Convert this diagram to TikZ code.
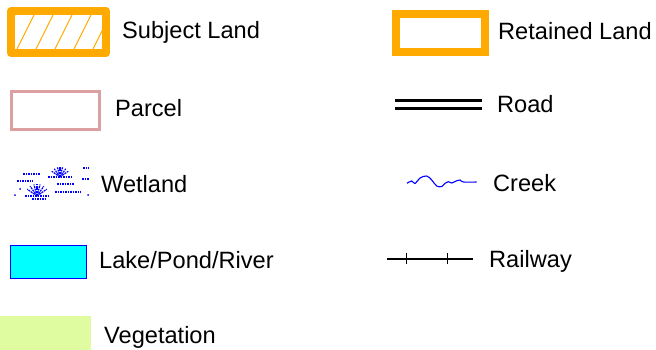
\documentclass[tikz,border=0pt]{standalone}
\usepackage{fontspec}
\setmainfont{Liberation Sans}
\usepackage{tikz}
\usetikzlibrary{calc}

\definecolor{landorange}{RGB}{255,170,0}
\definecolor{parcelpink}{RGB}{220,160,160}
\definecolor{vegetgreen}{RGB}{224,252,160}
\definecolor{lakecyan}{RGB}{0,255,255}

\begin{document}
\begin{tikzpicture}[x=1pt,y=-1pt,
	legendtext/.style={anchor=base west,inner sep=0pt,font=\fontsize{23.6}{27}\selectfont},
	wetdash/.style={blue,line width=1.5pt,dash pattern=on 1.5pt off 1pt},
	wettuft/.style={blue,line width=1.2pt,dash pattern=on 2pt off 0.8pt}]
	\newcommand{\hatchStep}{19}
	\newcommand{\roadWidth}{3}

	\useasboundingbox (0,0) rectangle (656,350);

	% subject land
	\begin{scope}
		\clip (15,15) rectangle (102,49);
		\foreach \hx in {-40,-21,...,120}
			\draw[landorange,line width=1pt] (\hx,49) -- ++(17,-34);
	\end{scope}
	\draw[landorange,line width=8pt,line join=round] (11,11) rectangle (106,53);
	\node[legendtext] (subject_label) at (122,38.5) {Subject Land};

	% retained land
	\draw[landorange,line width=8pt] (396,14) rectangle (485,52);
	\node[legendtext] (retained_label) at (498,39.5) {Retained Land};

	% parcel
	\draw[parcelpink,line width=3pt] (11.5,92) rectangle (99.5,129.5);
	\node[legendtext] (parcel_label) at (115,116.5) {Parcel};

	% road
	\draw[black,line width=\roadWidth pt] (395,101) -- (482,101);
	\draw[black,line width=\roadWidth pt] (395,108.5) -- (482,108.5);
	\node[legendtext] (road_label) at (497,113) {Road};

	% wetland
	\draw[wetdash] (23,174) -- (40,174);
	\draw[wetdash] (83,168) -- (89,168);
	\draw[wetdash] (17,181) -- (33,181);
	\draw[wetdash] (57,184) -- (74,184);
	\draw[wetdash] (82,179) -- (89,179);
	\draw[wetdash] (55,192) -- (81,192);
	\draw[wetdash] (32,199) -- (46,199);
	\draw[wetdash] (48,177) -- (73,177);
	\draw[wetdash] (25,196) -- (50,196);
	\fill[blue] (15,195) circle (1pt) (20,189) circle (1pt) (88,195) circle (1pt);
	\foreach \ang in {215,235,255,270,285,305,325}
		\draw[wettuft] (60,177) -- ++(\ang:10);
	\foreach \ang in {215,235,255,270,285,305,325}
		\draw[wettuft] (37,196) -- ++(\ang:12);
	\node[legendtext] (wetland_label) at (101,192) {Wetland};

	% creek
	\draw[blue,line width=1.1pt] plot[smooth,tension=0.6] coordinates
		{(407,183.3) (411.7,181) (415,183.5) (420,178) (426.7,176) (431.7,180)
		 (436.7,186) (441.7,186.5) (445,183.3) (448.3,181.7) (451.7,183)
		 (456.7,180.7) (460,180) (463.3,182) (476.7,182)};
	\node[legendtext] (creek_label) at (493,191) {Creek};

	% lake / pond / river
	\draw[blue,fill=lakecyan,line width=1pt] (10.5,245.5) rectangle (86.5,278.5);
	\node[legendtext] (lake_label) at (99,268.3) {Lake/Pond/River};

	% railway
	\draw[black,line width=1.4pt] (387,259) -- (473,259);
	\draw[black,line width=1pt] (406,253) -- (406,264) (447,253) -- (447,264);
	\node[legendtext] (railway_label) at (489,267.5) {Railway};

	% vegetation
	\fill[vegetgreen] (0,316) rectangle (91,350);
	\node[legendtext] (vegetation_label) at (104,343.3) {Vegetation};
\end{tikzpicture}
\end{document}
